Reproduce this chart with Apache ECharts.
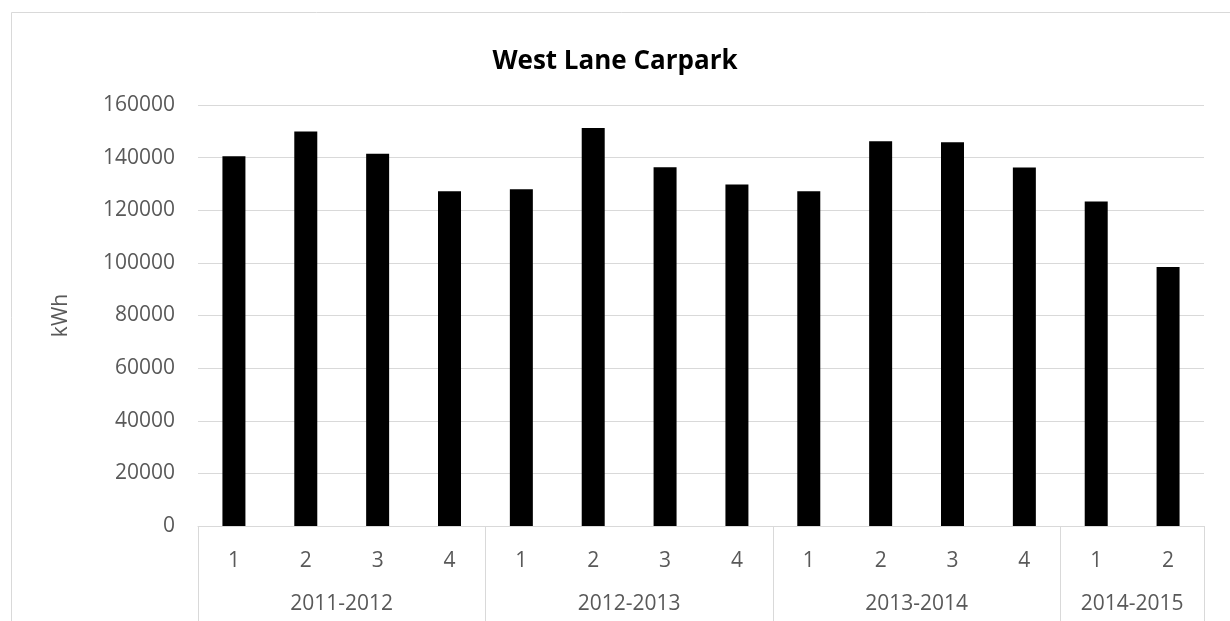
<!DOCTYPE html>
<html>
<head>
<meta charset="utf-8">
<script src="https://cdn.jsdelivr.net/npm/echarts@6/dist/echarts.min.js"></script>
<style>html,body{margin:0;padding:0;background:#fff;}#c{width:1230px;height:621px;}</style>
</head>
<body>
<div id="c"></div>
<script>
const quarters = ['1','2','3','4','1','2','3','4','1','2','3','4','1','2'];
const values = [140500, 149900, 141500, 127200, 128000, 151300, 136300, 129800, 127200, 146200, 145800, 136200, 123300, 98400];
const groups = ['2011-2012','2012-2013','2013-2014','2014-2015'];
const groupSizes = [4, 4, 4, 2];
const yTicks = { min: 0, max: 160000, interval: 20000 };

const bounds = [0];
const centers = [];
groupSizes.forEach(s => { const b = bounds[bounds.length - 1]; centers.push(b + s / 2); bounds.push(b + s); });

const font = 'Open Sans';
const chart = echarts.init(document.getElementById('c'));
chart.setOption({
  animation: false,
  backgroundColor: '#fff',
  title: {
    text: 'West Lane Carpark',
    left: 'center',
    top: 44,
    textStyle: { fontFamily: font, fontWeight: 'bold', fontSize: 26, color: '#000' }
  },
  grid: { left: 198, right: 26, top: 105, bottom: 95 },
  xAxis: [
    {
      type: 'category',
      data: quarters,
      axisLine: { lineStyle: { color: '#d9d9d9', width: 1 } },
      axisTick: { show: false },
      axisLabel: { color: '#595959', fontFamily: font, fontSize: 21, margin: 25, interval: 0 }
    },
    {
      type: 'value',
      min: 0,
      max: quarters.length,
      position: 'bottom',
      splitLine: { show: false },
      axisLine: { show: false },
      axisTick: { show: true, length: 100, customValues: bounds, lineStyle: { color: '#d9d9d9', width: 1 } },
      axisLabel: {
        customValues: centers,
        color: '#595959', fontFamily: font, fontSize: 21, margin: 68,
        formatter: v => { const i = centers.indexOf(v); return i >= 0 ? groups[i] : ''; }
      }
    }
  ],
  yAxis: {
    type: 'value',
    min: yTicks.min, max: yTicks.max, interval: yTicks.interval,
    name: 'kWh', nameLocation: 'middle', nameRotate: 90, nameGap: 126,
    nameTextStyle: { color: '#595959', fontFamily: font, fontSize: 21 },
    axisLine: { show: false }, axisTick: { show: false },
    splitLine: { lineStyle: { color: '#d9d9d9', width: 1 } },
    axisLabel: { color: '#595959', fontFamily: font, fontSize: 21, margin: 23, formatter: v => String(v) }
  },
  graphic: [{
    type: 'rect', silent: true, z: -1,
    shape: { x: 11.5, y: 12.5, width: 1400, height: 800 },
    style: { fill: 'none', stroke: '#d9d9d9', lineWidth: 1 }
  }],
  series: [{
    type: 'bar',
    xAxisIndex: 0,
    data: values,
    barWidth: '32%',
    itemStyle: { color: '#000' }
  }]
});
</script>
</body>
</html>
